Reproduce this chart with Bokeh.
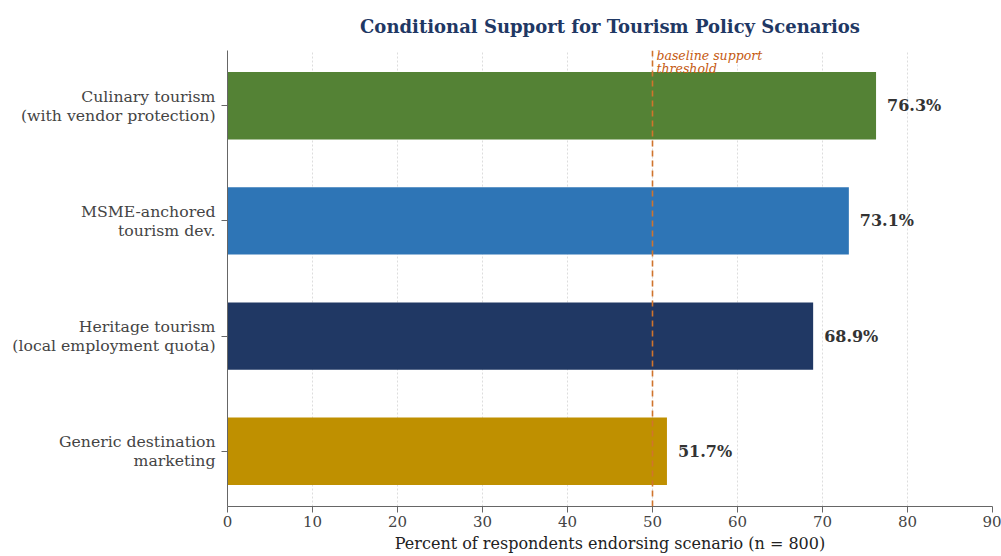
from bokeh.plotting import figure
from bokeh.models import ColumnDataSource, FactorRange, Range1d, Span, Label, FixedTicker
from bokeh.core.properties import value
from bokeh.embed import file_html
from bokeh.resources import INLINE

categories = ["Culinary tourism\n(with vendor protection)",
              "MSME-anchored\ntourism dev.",
              "Heritage tourism\n(local employment quota)",
              "Generic destination\nmarketing"]
values = [76.3, 73.1, 68.9, 51.7]
colors = ["#548235", "#2e75b6", "#203864", "#bf9000"]
labels = [f"{v:.1f}%" for v in values]
threshold = 50
x_ticks = [0, 10, 20, 30, 40, 50, 60, 70, 80, 90]

FONT = "DejaVu Serif"

src = ColumnDataSource(dict(cat=categories, val=values, color=colors, lab=labels))

p = figure(width=1001, height=556, output_backend="svg", toolbar_location=None,
           y_range=FactorRange(factors=list(reversed(categories)), range_padding=-0.01),
           x_range=Range1d(0, 90),
           min_border_left=227, min_border_right=9, min_border_top=50, min_border_bottom=50)
p.outline_line_color = None
p.background_fill_color = "white"
p.border_fill_color = "white"

p.title.text = "Conditional Support for Tourism Policy Scenarios"
p.title.text_font = FONT
p.title.text_font_size = "18px"
p.title.text_font_style = "bold"
p.title.text_color = "#1f3864"
p.title.align = "center"
p.title.vertical_align = "middle"
p.title.standoff = 25

p.hbar(y="cat", right="val", left=0, height=0.585, color="color", source=src, line_color=None)

p.text(x="val", y="cat", text="lab", source=src, x_offset=11,
       text_baseline="middle", text_align="left",
       text_font=value(FONT), text_font_size="16px", text_font_style="bold",
       text_color="#333333")

span = Span(location=threshold, dimension="height", line_color="#d0742c",
            line_dash="6 4", line_width=1.6)
p.add_layout(span)
p.add_layout(Label(x=threshold, y=451, y_units="screen", x_offset=4, text="baseline support",
                   text_font=FONT, text_font_size="12.5px", text_font_style="italic",
                   text_color="#c55a11", text_baseline="middle", level="overlay"))
p.add_layout(Label(x=threshold, y=438, y_units="screen", x_offset=4, text="threshold",
                   text_font=FONT, text_font_size="12.5px", text_font_style="italic",
                   text_color="#c55a11", text_baseline="middle", level="overlay"))

p.xaxis.ticker = FixedTicker(ticks=x_ticks)
p.xaxis.axis_label = "Percent of respondents endorsing scenario (n = 800)"
for ax in (p.xaxis[0], p.yaxis[0]):
    ax.axis_line_color = "#666666"
    ax.major_tick_line_color = "#666666"
    ax.minor_tick_line_color = None
    ax.major_tick_out = 6
    ax.major_tick_in = 0
    ax.major_label_text_font = FONT
    ax.major_label_text_font_size = "15px"
    ax.major_label_text_color = "#444444"
    ax.axis_label_text_font = FONT
    ax.axis_label_text_font_size = "16px"
    ax.axis_label_text_font_style = "normal"
    ax.axis_label_text_color = "#222222"
p.yaxis.major_label_text_font_size = "15.7px"
p.yaxis.major_label_text_line_height = 1.0
p.xaxis.axis_label_standoff = 4
p.xaxis.major_label_standoff = 3
p.yaxis.major_label_standoff = 6
p.yaxis.major_label_text_align = "right"

p.xgrid.grid_line_color = "#dddddd"
p.xgrid.grid_line_dash = "2 2"
p.ygrid.grid_line_color = None

open("out.html", "w").write(file_html(p, INLINE))
